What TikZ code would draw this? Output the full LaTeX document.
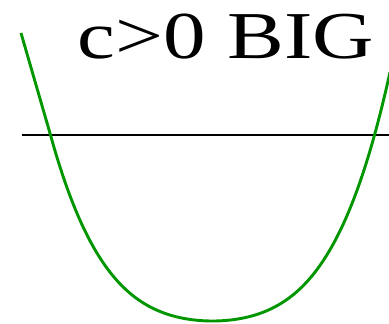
\documentclass[tikz,border=0pt]{standalone}
\usepackage{fontspec}
\setmainfont{Liberation Serif}
\definecolor{curvegreen}{RGB}{0,150,0}
\begin{document}
\begin{tikzpicture}[x=1pt,y=1pt,
  axisline/.style={line width=2.3pt,black},
  curveline/.style={line width=2.9pt,curvegreen,line join=round},
  titletext/.style={font=\fontsize{67}{67}\selectfont,anchor=base,inner sep=0pt,xscale=1.27}]
\useasboundingbox (0,0) rectangle (389,324);
\coordinate (l) at (22,189);
\coordinate (r) at (389,189);
\coordinate (cstart) at (21,291);
\draw[axisline] (l) -- (r);
\draw[curveline] (cstart) -- plot[domain=50:390, samples=200] (\x, {3+30.23*((\x-212.5)/100)^2+15.48*((\x-212.5)/100)^4});
\node[titletext] (title) at (226,265.5) {c>0 BIG};
\end{tikzpicture}
\end{document}
